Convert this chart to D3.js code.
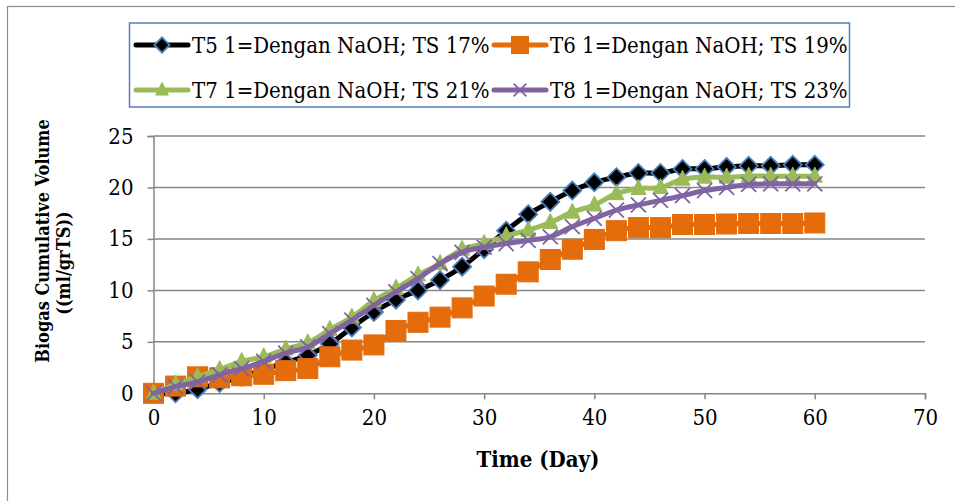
<!DOCTYPE html>
<html>
<head>
<meta charset="utf-8">
<script src="https://cdn.jsdelivr.net/npm/d3@7"></script>
<style>
  html, body { margin: 0; padding: 0; background: #fff; }
  svg { display: block; }
  text { font-family: "DejaVu Serif Condensed", "Liberation Serif", serif; fill: #000; }
</style>
</head>
<body>
<svg id="chart" width="955" height="501"></svg>
<script>
// ---- data ----
const days = [0,2,4,6,8,10,12,14,16,18,20,22,24,26,28,30,32,34,36,38,40,42,44,46,48,50,52,54,56,58,60];
const t5 = [0,0,0.4,1.0,1.6,2.3,3.0,3.7,4.8,6.4,7.9,9.1,10.0,11.0,12.3,14.0,15.8,17.4,18.6,19.7,20.5,21.0,21.4,21.4,21.8,21.8,22.0,22.1,22.1,22.2,22.2];
const t6 = [0,0.7,1.6,1.5,1.7,1.85,2.2,2.4,3.55,4.2,4.7,6.1,6.9,7.4,8.3,9.45,10.6,11.8,13.0,14.0,14.95,15.8,16.1,16.1,16.4,16.4,16.45,16.5,16.5,16.5,16.55];
const t7 = [0,0.9,1.6,2.3,3.1,3.55,4.3,4.9,6.2,7.4,9.0,10.2,11.5,12.6,14.0,14.55,15.3,15.85,16.6,17.6,18.3,19.4,19.9,20.0,20.8,21.0,21.0,21.1,21.1,21.1,21.1];
const t8 = [0,0.65,1.1,1.8,2.4,3.1,3.9,4.5,5.8,7.1,8.55,9.85,11.15,12.6,13.7,14.2,14.55,14.85,15.2,16.2,17.0,17.8,18.3,18.75,19.2,19.7,20.0,20.3,20.35,20.35,20.35];
const seriesNames = ["T5 1=Dengan NaOH; TS 17%","T6 1=Dengan NaOH; TS 19%","T7 1=Dengan NaOH; TS 21%","T8 1=Dengan NaOH; TS 23%"];
const xTicks = [0,10,20,30,40,50,60,70];
const yTicks = [0,5,10,15,20,25];
const xTitle = "Time (Day)";
const yTitle = ["Biogas Cumulative Volume", "((ml/grTS))"];

const series = [
  {name: seriesNames[0], values: t5, line: "#000000", marker: "diamond", fill: "#000000", stroke: "#4A7EBB"},
  {name: seriesNames[1], values: t6, line: "#E46C0A", marker: "square", fill: "#E46C0A", stroke: "#E46C0A"},
  {name: seriesNames[2], values: t7, line: "#9BBB59", marker: "triangle", fill: "#9BBB59", stroke: "#9BBB59"},
  {name: seriesNames[3], values: t8, line: "#8064A2", marker: "x", fill: "none", stroke: "#8064A2"}
];

const svg = d3.select("#chart");
const gridColor = "#868686";

// outer border (cropped chart frame)
svg.append("rect").attr("x", 7.5).attr("y", 6.5).attr("width", 1000).attr("height", 1000)
  .attr("fill", "none").attr("stroke", "#8c8c8c").attr("stroke-width", 1.2);

const x = d3.scaleLinear().domain([0, 70]).range([153.5, 925]);
const y = d3.scaleLinear().domain([0, 25]).range([393.3, 136]);

// gridlines
svg.append("g").selectAll("line").data(yTicks.filter(d => d > 0)).join("line")
  .attr("x1", x(0)).attr("x2", x(70))
  .attr("y1", d => y(d)).attr("y2", d => y(d))
  .attr("stroke", gridColor).attr("stroke-width", 1.5);

// y axis
const yAxis = d3.axisLeft(y).tickValues(yTicks).tickSize(6).tickPadding(14).tickFormat(d3.format("d"));
const gy = svg.append("g").attr("transform", `translate(${x(0)},0)`).call(yAxis);
gy.select(".domain").attr("stroke", gridColor).attr("stroke-width", 1.5);
gy.selectAll(".tick line").attr("stroke", gridColor).attr("stroke-width", 1.5);
gy.selectAll(".tick text").attr("font-size", 22).attr("font-family", null).attr("fill", "#000");

// x axis
const xAxis = d3.axisBottom(x).tickValues(xTicks).tickSize(6).tickPadding(10).tickFormat(d3.format("d"));
const gx = svg.append("g").attr("transform", `translate(0,${y(0)})`).call(xAxis);
gx.select(".domain").attr("stroke", gridColor).attr("stroke-width", 1.5);
gx.selectAll(".tick line").attr("stroke", gridColor).attr("stroke-width", 1.5);
gx.selectAll(".tick text").attr("font-size", 22).attr("font-family", null).attr("fill", "#000");

// titles
svg.append("text").attr("x", 538).attr("y", 467).attr("text-anchor", "middle")
  .attr("font-size", 22).attr("font-weight", "bold").text(xTitle);
svg.append("text").attr("transform", "translate(49,241) rotate(-90)").attr("text-anchor", "middle")
  .attr("font-size", 18).attr("font-weight", "bold").text(yTitle[0]);
svg.append("text").attr("transform", "translate(70,263) rotate(-90)").attr("text-anchor", "middle")
  .attr("font-size", 18).attr("font-weight", "bold").text(yTitle[1]);

// marker drawing
function drawMarker(g, type, s, fill, stroke) {
  if (type === "diamond") {
    g.append("path").attr("d", `M0,${-s}L${s},0L0,${s}L${-s},0Z`)
      .attr("fill", fill).attr("stroke", stroke).attr("stroke-width", 1.8);
  } else if (type === "square") {
    g.append("rect").attr("x", -s).attr("y", -s).attr("width", 2*s).attr("height", 2*s)
      .attr("fill", fill).attr("stroke", stroke).attr("stroke-width", 1);
  } else if (type === "triangle") {
    g.append("path").attr("d", `M0,${-s*1.2}L${s},${s*0.8}L${-s},${s*0.8}Z`)
      .attr("fill", fill).attr("stroke", stroke).attr("stroke-width", 1);
  } else if (type === "x") {
    g.append("path").attr("d", `M${-s},${-s}L${s},${s}M${-s},${s}L${s},${-s}`)
      .attr("fill", "none").attr("stroke", stroke).attr("stroke-width", 1.8);
  }
}
const markerSize = {diamond: 9, square: 10, triangle: 7.5, x: 7.5};

const lineGen = d3.line().x(d => x(d[0])).y(d => y(d[1])).curve(d3.curveCatmullRom.alpha(0.5));

series.forEach(s => {
  const pts = days.map((d, i) => [d, s.values[i]]);
  const g = svg.append("g");
  g.append("path").datum(pts).attr("d", lineGen)
    .attr("fill", "none").attr("stroke", s.line).attr("stroke-width", 5)
    .attr("stroke-linejoin", "round").attr("stroke-linecap", "round");
  pts.forEach(p => {
    const mg = g.append("g").attr("transform", `translate(${x(p[0])},${y(p[1])})`);
    drawMarker(mg, s.marker, markerSize[s.marker], s.fill, s.stroke);
  });
});

// legend
const legend = svg.append("g");
legend.append("rect").attr("x", 129.5).attr("y", 23).attr("width", 720).attr("height", 84)
  .attr("fill", "#fff").attr("stroke", "#4F81BD").attr("stroke-width", 1.5);
const legendPos = [
  {x: 136, y: 45}, {x: 494, y: 45}, {x: 136, y: 90}, {x: 494, y: 90}
];
series.forEach((s, i) => {
  const p = legendPos[i];
  const lg = legend.append("g").attr("transform", `translate(${p.x},${p.y})`);
  lg.append("line").attr("x1", 0).attr("x2", 52).attr("y1", 0).attr("y2", 0)
    .attr("stroke", s.line).attr("stroke-width", 5).attr("stroke-linecap", "round");
  const mg = lg.append("g").attr("transform", "translate(26,0)");
  drawMarker(mg, s.marker, markerSize[s.marker] * 0.85, s.fill, s.stroke);
  lg.append("text").attr("x", 56).attr("y", 0).attr("dy", "0.35em")
    .attr("font-size", 22).text(s.name);
});
</script>
</body>
</html>
